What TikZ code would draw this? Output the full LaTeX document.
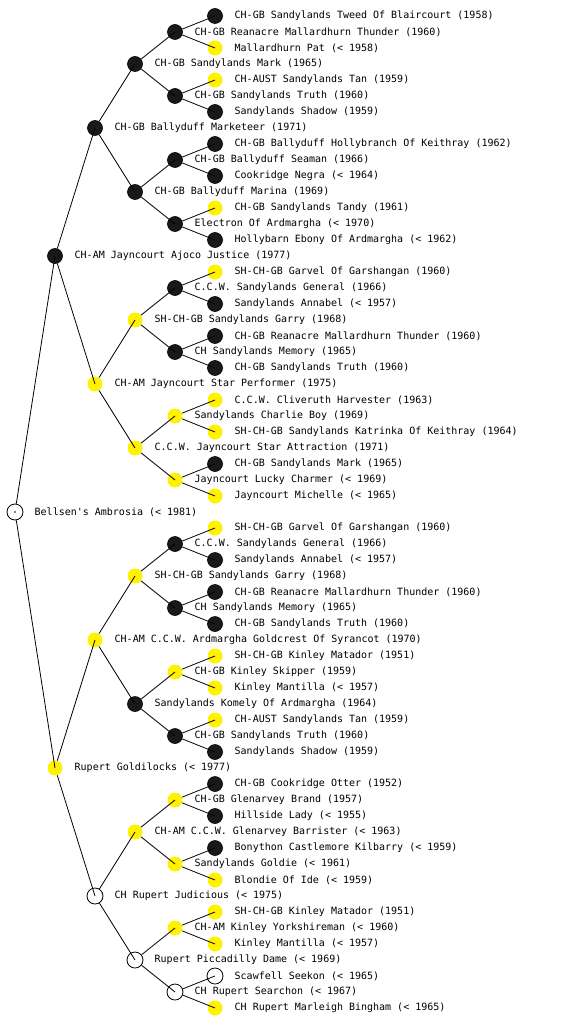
\documentclass[tikz,border=0pt]{standalone}
\usepackage{fontspec}
\newfontfamily\pedfont{DejaVu Sans Mono}
\begin{document}
\begin{tikzpicture}[x=1pt,y=-1pt,
  blk/.style={circle,fill=black!90,draw=black,line width=0.6pt,minimum size=15pt,inner sep=0pt},
  ylw/.style={circle,fill=yellow,draw=none,minimum size=15pt,inner sep=0pt},
  wht/.style={circle,fill=white,draw=black,line width=0.8pt,minimum size=16pt,inner sep=0pt},
  lbl/.style={anchor=west,inner sep=0pt,font=\pedfont\fontsize{10}{12}\selectfont},
  edge/.style={draw=black,line width=0.8pt}]
\useasboundingbox (0,0) rectangle (560,1024);
\newcommand{\person}[5]{\node[#4] (#1) at (#2,#3) {}; \node[lbl] (#1-t) at (#2+19.5,#3) {#5};}
% root
\person{R}{15}{512}{wht}{Bellsen's Ambrosia (< 1981)}
% gen 1
\person{A}{55}{256}{blk}{CH-AM Jayncourt Ajoco Justice (1977)}
\person{B}{55}{768}{ylw}{Rupert Goldilocks (< 1977)}
% gen 2
\person{AA}{95}{128}{blk}{CH-GB Ballyduff Marketeer (1971)}
\person{AB}{95}{384}{ylw}{CH-AM Jayncourt Star Performer (1975)}
\person{BA}{95}{640}{ylw}{CH-AM C.C.W. Ardmargha Goldcrest Of Syrancot (1970)}
\person{BB}{95}{896}{wht}{CH Rupert Judicious (< 1975)}
% gen 3
\person{AAA}{135}{64}{blk}{CH-GB Sandylands Mark (1965)}
\person{AAB}{135}{192}{blk}{CH-GB Ballyduff Marina (1969)}
\person{ABA}{135}{320}{ylw}{SH-CH-GB Sandylands Garry (1968)}
\person{ABB}{135}{448}{ylw}{C.C.W. Jayncourt Star Attraction (1971)}
\person{BAA}{135}{576}{ylw}{SH-CH-GB Sandylands Garry (1968)}
\person{BAB}{135}{704}{blk}{Sandylands Komely Of Ardmargha (1964)}
\person{BBA}{135}{832}{ylw}{CH-AM C.C.W. Glenarvey Barrister (< 1963)}
\person{BBB}{135}{960}{wht}{Rupert Piccadilly Dame (< 1969)}
% gen 4
\person{AAAA}{175}{32}{blk}{CH-GB Reanacre Mallardhurn Thunder (1960)}
\person{AAAB}{175}{96}{blk}{CH-GB Sandylands Truth (1960)}
\person{AABA}{175}{160}{blk}{CH-GB Ballyduff Seaman (1966)}
\person{AABB}{175}{224}{blk}{Electron Of Ardmargha (< 1970)}
\person{ABAA}{175}{288}{blk}{C.C.W. Sandylands General (1966)}
\person{ABAB}{175}{352}{blk}{CH Sandylands Memory (1965)}
\person{ABBA}{175}{416}{ylw}{Sandylands Charlie Boy (1969)}
\person{ABBB}{175}{480}{ylw}{Jayncourt Lucky Charmer (< 1969)}
\person{BAAA}{175}{544}{blk}{C.C.W. Sandylands General (1966)}
\person{BAAB}{175}{608}{blk}{CH Sandylands Memory (1965)}
\person{BABA}{175}{672}{ylw}{CH-GB Kinley Skipper (1959)}
\person{BABB}{175}{736}{blk}{CH-GB Sandylands Truth (1960)}
\person{BBAA}{175}{800}{ylw}{CH-GB Glenarvey Brand (1957)}
\person{BBAB}{175}{864}{ylw}{Sandylands Goldie (< 1961)}
\person{BBBA}{175}{928}{ylw}{CH-AM Kinley Yorkshireman (< 1960)}
\person{BBBB}{175}{992}{wht}{CH Rupert Searchon (< 1967)}
% gen 5
\person{AAAAA}{215}{16}{blk}{CH-GB Sandylands Tweed Of Blaircourt (1958)}
\person{AAAAB}{215}{48}{ylw}{Mallardhurn Pat (< 1958)}
\person{AAABA}{215}{80}{ylw}{CH-AUST Sandylands Tan (1959)}
\person{AAABB}{215}{112}{blk}{Sandylands Shadow (1959)}
\person{AABAA}{215}{144}{blk}{CH-GB Ballyduff Hollybranch Of Keithray (1962)}
\person{AABAB}{215}{176}{blk}{Cookridge Negra (< 1964)}
\person{AABBA}{215}{208}{ylw}{CH-GB Sandylands Tandy (1961)}
\person{AABBB}{215}{240}{blk}{Hollybarn Ebony Of Ardmargha (< 1962)}
\person{ABAAA}{215}{272}{ylw}{SH-CH-GB Garvel Of Garshangan (1960)}
\person{ABAAB}{215}{304}{blk}{Sandylands Annabel (< 1957)}
\person{ABABA}{215}{336}{blk}{CH-GB Reanacre Mallardhurn Thunder (1960)}
\person{ABABB}{215}{368}{blk}{CH-GB Sandylands Truth (1960)}
\person{ABBAA}{215}{400}{ylw}{C.C.W. Cliveruth Harvester (1963)}
\person{ABBAB}{215}{432}{ylw}{SH-CH-GB Sandylands Katrinka Of Keithray (1964)}
\person{ABBBA}{215}{464}{blk}{CH-GB Sandylands Mark (1965)}
\person{ABBBB}{215}{496}{ylw}{Jayncourt Michelle (< 1965)}
\person{BAAAA}{215}{528}{ylw}{SH-CH-GB Garvel Of Garshangan (1960)}
\person{BAAAB}{215}{560}{blk}{Sandylands Annabel (< 1957)}
\person{BAABA}{215}{592}{blk}{CH-GB Reanacre Mallardhurn Thunder (1960)}
\person{BAABB}{215}{624}{blk}{CH-GB Sandylands Truth (1960)}
\person{BABAA}{215}{656}{ylw}{SH-CH-GB Kinley Matador (1951)}
\person{BABAB}{215}{688}{ylw}{Kinley Mantilla (< 1957)}
\person{BABBA}{215}{720}{ylw}{CH-AUST Sandylands Tan (1959)}
\person{BABBB}{215}{752}{blk}{Sandylands Shadow (1959)}
\person{BBAAA}{215}{784}{blk}{CH-GB Cookridge Otter (1952)}
\person{BBAAB}{215}{816}{blk}{Hillside Lady (< 1955)}
\person{BBABA}{215}{848}{blk}{Bonython Castlemore Kilbarry (< 1959)}
\person{BBABB}{215}{880}{ylw}{Blondie Of Ide (< 1959)}
\person{BBBAA}{215}{912}{ylw}{SH-CH-GB Kinley Matador (1951)}
\person{BBBAB}{215}{944}{ylw}{Kinley Mantilla (< 1957)}
\person{BBBBA}{215}{976}{wht}{Scawfell Seekon (< 1965)}
\person{BBBBB}{215}{1008}{ylw}{CH Rupert Marleigh Bingham (< 1965)}
% root centre dot
\fill (R.center) circle (0.9pt);
% edges: parent boundary to child centre
\draw[edge] (R) -- (A.center);
\draw[edge] (R) -- (B.center);
\foreach \p in {A,B,AA,AB,BA,BB,AAA,AAB,ABA,ABB,BAA,BAB,BBA,BBB,
  AAAA,AAAB,AABA,AABB,ABAA,ABAB,ABBA,ABBB,BAAA,BAAB,BABA,BABB,BBAA,BBAB,BBBA,BBBB}{
  \draw[edge] (\p) -- (\p A.center);
  \draw[edge] (\p) -- (\p B.center);
}
\end{tikzpicture}
\end{document}
